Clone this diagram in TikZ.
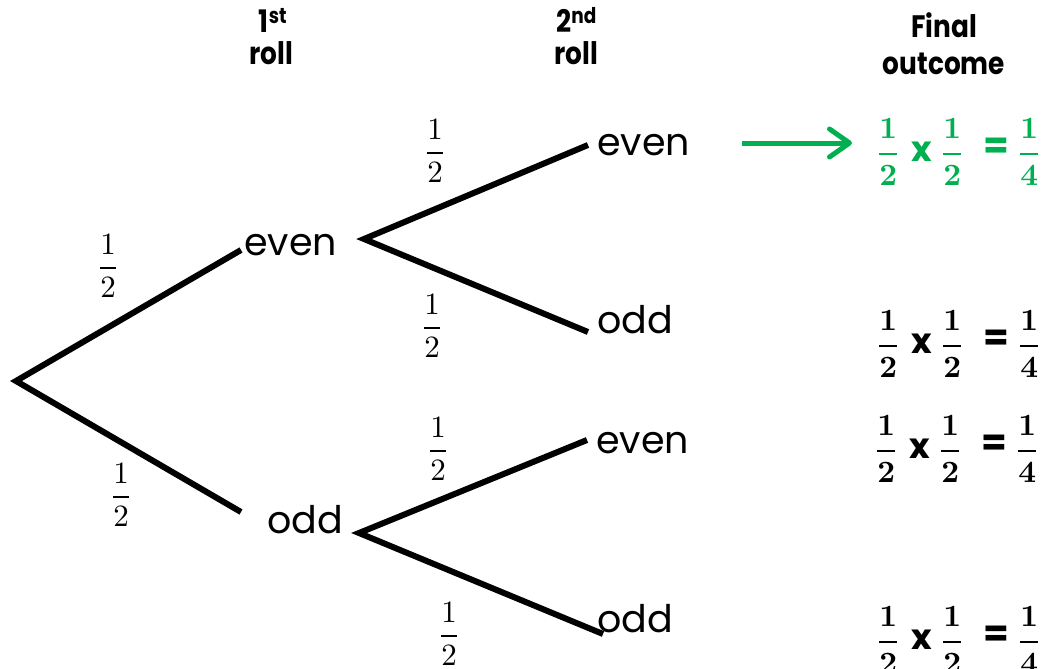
\documentclass[tikz,border=0pt]{standalone}
\usepackage{graphicx}
\usepackage{fontspec}
\newfontfamily\pop{Poppins}
\usetikzlibrary{arrows.meta}
\definecolor{xgreen}{HTML}{00B050}
\newcommand\myfrac[2]{\scalebox{3.1}{$\displaystyle\frac{#1}{#2}$}}
\newcommand\mybfrac[2]{\scalebox{3.1}{\boldmath$\displaystyle\frac{#1}{#2}$}}
\newcommand\bigsym[2]{{\pop\bfseries\fontsize{#1}{#1}\selectfont #2}}
\newcommand\prodrow{\makebox[40pt]{\mybfrac12}\makebox[28pt]{\bigsym{35}{x}}\makebox[32pt]{\mybfrac12}\makebox[56pt]{\raisebox{3pt}{\bigsym{37}{=}}}\makebox[10pt]{\mybfrac14}}
\newcommand\hd[1]{\scalebox{0.85}[1]{#1}}
\tikzset{
  branch/.style={line width=6pt, line join=miter, line cap=butt},
  outc/.style={font=\pop\fontsize{38}{44}\selectfont, inner sep=0pt, anchor=base west},
  head/.style={font=\pop\bfseries\fontsize{31}{37}\selectfont, inner sep=0pt, anchor=base},
  prob/.style={inner sep=0pt},
  res/.style={inner sep=0pt, anchor=west},
  garrow/.style={draw=xgreen, line width=5pt, -{Straight Barb[length=20pt,width=28pt,line cap=round,line join=round]}}
}
\begin{document}
\begin{tikzpicture}[x=1pt,y=-1pt]
\useasboundingbox (0,0) rectangle (1042,669);
% headers
\node[head] (h1a) at (273,33) {\hd{1\textsuperscript{st}}};
\node[head] (h1b) at (271.5,65) {\hd{roll}};
\node[head] (h2a) at (576.5,33) {\hd{2\textsuperscript{nd}}};
\node[head] (h2b) at (576.5,65) {\hd{roll}};
\node[head] (h3a) at (944,38) {\hd{Final}};
\node[head] (h3b) at (944,75) {\hd{outcome}};
% tree points
\coordinate (root) at (16,381);
\coordinate (u1) at (241,250);
\coordinate (d1) at (241,512);
\coordinate (v1) at (364,239);
\coordinate (u2) at (588,145);
\coordinate (d2) at (588,332);
\coordinate (v2) at (359,533);
\coordinate (u3) at (587,440);
\coordinate (d3) at (603,634);
% outcomes
\node[outc] (e1) at (244,255) {even};
\node[outc] (o1) at (267,533) {odd};
\node[outc] (e2) at (597,155) {even};
\node[outc] (o2) at (597,333) {odd};
\node[outc] (e3) at (596,453) {even};
\node[outc] (o3) at (597,632) {odd};
% branches
\draw[branch] (u1) -- (root) -- (d1);
\draw[branch] (u2) -- (v1) -- (d2);
\draw[branch] (u3) -- (v2) -- (d3);
% probabilities
\node[prob] (p1) at (108,266) {\myfrac12};
\node[prob] (p2) at (121,495) {\myfrac12};
\node[prob] (p3) at (435,151) {\myfrac12};
\node[prob] (p4) at (432,326) {\myfrac12};
\node[prob] (p5) at (438,449) {\myfrac12};
\node[prob] (p6) at (449,634) {\myfrac12};
% results
\node[res, text=xgreen] (r1) at (868,152) {\prodrow};
\node[res] (r2) at (868,344) {\prodrow};
\node[res] (r3) at (866,449) {\prodrow};
\node[res] (r4) at (868,640) {\prodrow};
% arrow
\coordinate (a1) at (742,143);
\coordinate (a2) at (852,143);
\draw[garrow] (a1) -- (a2);
\end{tikzpicture}
\end{document}
